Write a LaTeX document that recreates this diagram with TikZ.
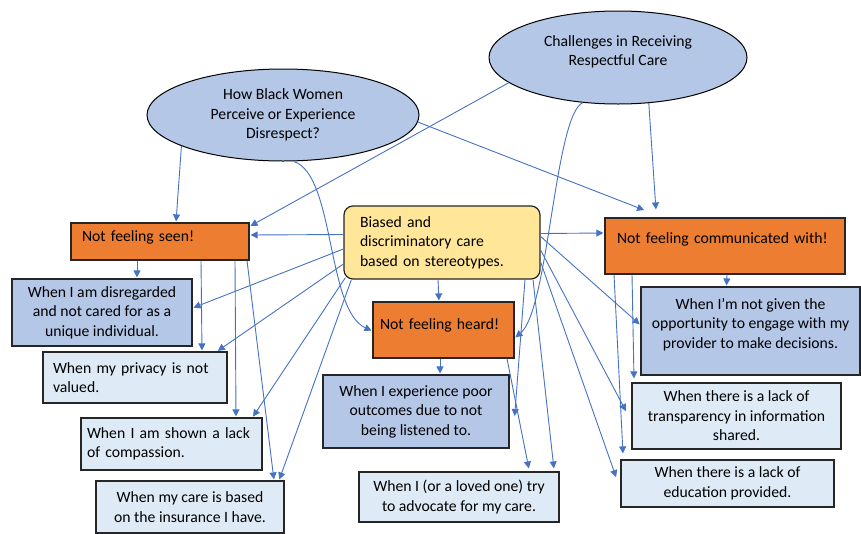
\documentclass[tikz,border=0pt]{standalone}
\usepackage{fontspec}
\setmainfont{Carlito}
\usetikzlibrary{shapes.geometric,arrows.meta}
\definecolor{topicblue}{HTML}{B4C7E7}
\definecolor{themeorange}{HTML}{ED7D31}
\definecolor{coreyellow}{HTML}{FFE699}
\definecolor{lightblue}{HTML}{DEEBF7}
\definecolor{linkblue}{HTML}{4472C4}

\begin{document}
\begin{tikzpicture}[x=1pt,y=-1pt,->,>={Triangle[length=7pt,width=7pt]},shorten >=1pt,
  link/.style={draw=linkblue,line width=0.9pt},
  every edge/.style={link},
  plain node/.style={font=\fontsize{15.7}{19.4}\selectfont,line width=1.2pt,draw=black!85},
  topic node/.style={plain node,ellipse,fill=topicblue,draw=black,line width=1pt,align=center,inner sep=0pt},
  theme node/.style={plain node,rectangle,fill=themeorange,align=left},
  core node/.style={plain node,rectangle,rounded corners=9pt,fill=coreyellow,align=left},
  item node/.style={plain node,rectangle,fill=topicblue,align=center},
  light node/.style={plain node,rectangle,fill=lightblue}]

  \useasboundingbox (0,0) rectangle (861,533);

  \node[topic node, minimum width=272pt, minimum height=92pt] (1) at (283,115)
    {How Black Women\\Perceive or Experience\\Disrespect?};
  \node[topic node, minimum width=258pt, minimum height=93pt, text depth=14.3pt] (2) at (618,57.5)
    {Challenges in Receiving\\Respectful Care};
  \node[core node, text width=164pt, inner xsep=16pt, minimum height=73pt] (3) at (442,242.5)
    {Biased and\\discriminatory care\\based on stereotypes.};

  \node[theme node, text width=156pt, inner xsep=11pt, minimum height=37pt, text depth=10.3pt]
    (4) [left of=3, node distance=282pt, yshift=1pt] {Not feeling seen!};
  \node[theme node, text width=127pt, inner xsep=7pt, minimum height=56pt, text depth=11.3pt]
    (5) [below of=3, node distance=87.5pt, xshift=1.5pt] {Not feeling heard!};
  \node[theme node, text width=216pt, inner xsep=12pt, minimum height=56pt, text depth=15.3pt]
    (6) [right of=3, node distance=283pt, yshift=-3.5pt] {Not feeling communicated with!};

  \node[item node, minimum width=180pt, minimum height=67pt]
    (7) [below of=4, node distance=71pt, xshift=-58pt] {When I am disregarded\\and not cared for as a\\unique individual.};
  \node[light node, align=left, text width=164pt, inner xsep=10pt, minimum height=51pt]
    (8) [below of=7, node distance=65pt, xshift=33pt] {When my privacy is not\\valued.};
  \node[light node, align=left, text width=169pt, inner xsep=6pt, minimum height=52pt]
    (9) [below of=8, node distance=66.5pt, xshift=36.5pt] {When I am shown a lack\\of compassion.};
  \node[light node, align=center, minimum width=188pt, minimum height=52pt]
    (10) [below of=9, node distance=63pt, xshift=18.5pt] {When my care is based\\on the insurance I have.};

  \node[item node, minimum width=186pt, minimum height=73pt]
    (11) [below of=5, node distance=81.5pt, xshift=-27.5pt] {When I experience poor\\outcomes due to not\\being listened to.};
  \node[light node, align=center, minimum width=200pt, minimum height=50pt]
    (12) [below of=11, node distance=85.5pt, xshift=43pt] {When I (or a loved one) try\\to advocate for my care.};

  \node[item node, minimum width=219pt, minimum height=88pt, text depth=15.3pt]
    (13) [below of=6, node distance=85pt, xshift=25.5pt] {When I’m not given the\\opportunity to engage with my\\provider to make decisions.};
  \node[light node, align=center, minimum width=209pt, minimum height=66pt]
    (14) [below of=13, node distance=85pt, xshift=-14pt] {When there is a lack of\\transparency in information\\shared.};
  \node[light node, align=center, minimum width=213pt, minimum height=47pt]
    (15) [below of=14, node distance=67.5pt, xshift=-9pt] {When there is a lack of\\education provided.};

  \path (1.197) edge ([xshift=16pt]4.north)
        (1.-3) edge ([xshift=-80pt,yshift=7pt]6.north)
        (2.193) edge ([yshift=-4pt]4.north east)
        (2.-56) edge ([xshift=-69pt,yshift=7pt]6.north);
  \draw[link] ([xshift=11pt]1.south) .. controls +(41,14) and +(-46,-21) .. ([yshift=-1pt]5.west);
  \draw[link] (2.232) .. controls +(-28,13) and +(34,-28) .. ([yshift=-8pt]5.east);

  \path ([yshift=8pt]3.west) edge ([yshift=6.5pt]4.east)
        ([yshift=-6.5pt]3.west) edge ([yshift=4.5pt]7.east)
        ([yshift=-21.5pt]3.west) edge ([xshift=82pt]8.north)
        ([xshift=2pt,yshift=2pt]3.south west) edge ([xshift=81pt]9.north)
        ([xshift=8pt]3.south west) edge ([xshift=89pt]10.north)
        ([xshift=-4pt]3.south) edge ([xshift=-4.5pt]5.north)
        ([yshift=9pt]3.east) edge ([yshift=13pt]6.west)
        ([yshift=6pt]3.east) edge ([yshift=6pt]13.west)
        ([yshift=-7.5pt]3.east) edge ([xshift=-5pt,yshift=4pt]14.west)
        ([yshift=-19.5pt]3.east) edge ([xshift=-4pt,yshift=5.5pt]15.west)
        ([xshift=83pt]3.south) edge ([xshift=5pt,yshift=-5.5pt]11.east)
        ([xshift=91pt]3.south) edge ([xshift=95pt,yshift=2pt]12.north);

  \path ([xshift=63.5pt]5.south) edge ([xshift=70pt,yshift=2pt]12.north)
        ([xshift=-3.5pt]5.south) edge ([xshift=24pt]11.north)
        ([xshift=-23pt]4.south) edge ([xshift=35pt]7.north)
        ([xshift=41pt]4.south) edge ([xshift=67pt]8.north)
        ([xshift=75pt]4.south) edge ([xshift=64.5pt]9.north)
        ([xshift=87pt]4.south) edge ([xshift=84pt]10.north)
        ([xshift=2pt]6.south) edge ([xshift=-24pt]13.north)
        ([xshift=-93pt]6.south) edge ([xshift=-102.5pt,yshift=3pt]14.north)
        ([xshift=-111pt]6.south) edge ([xshift=-104.5pt,yshift=5pt]15.north);
\end{tikzpicture}
\end{document}
